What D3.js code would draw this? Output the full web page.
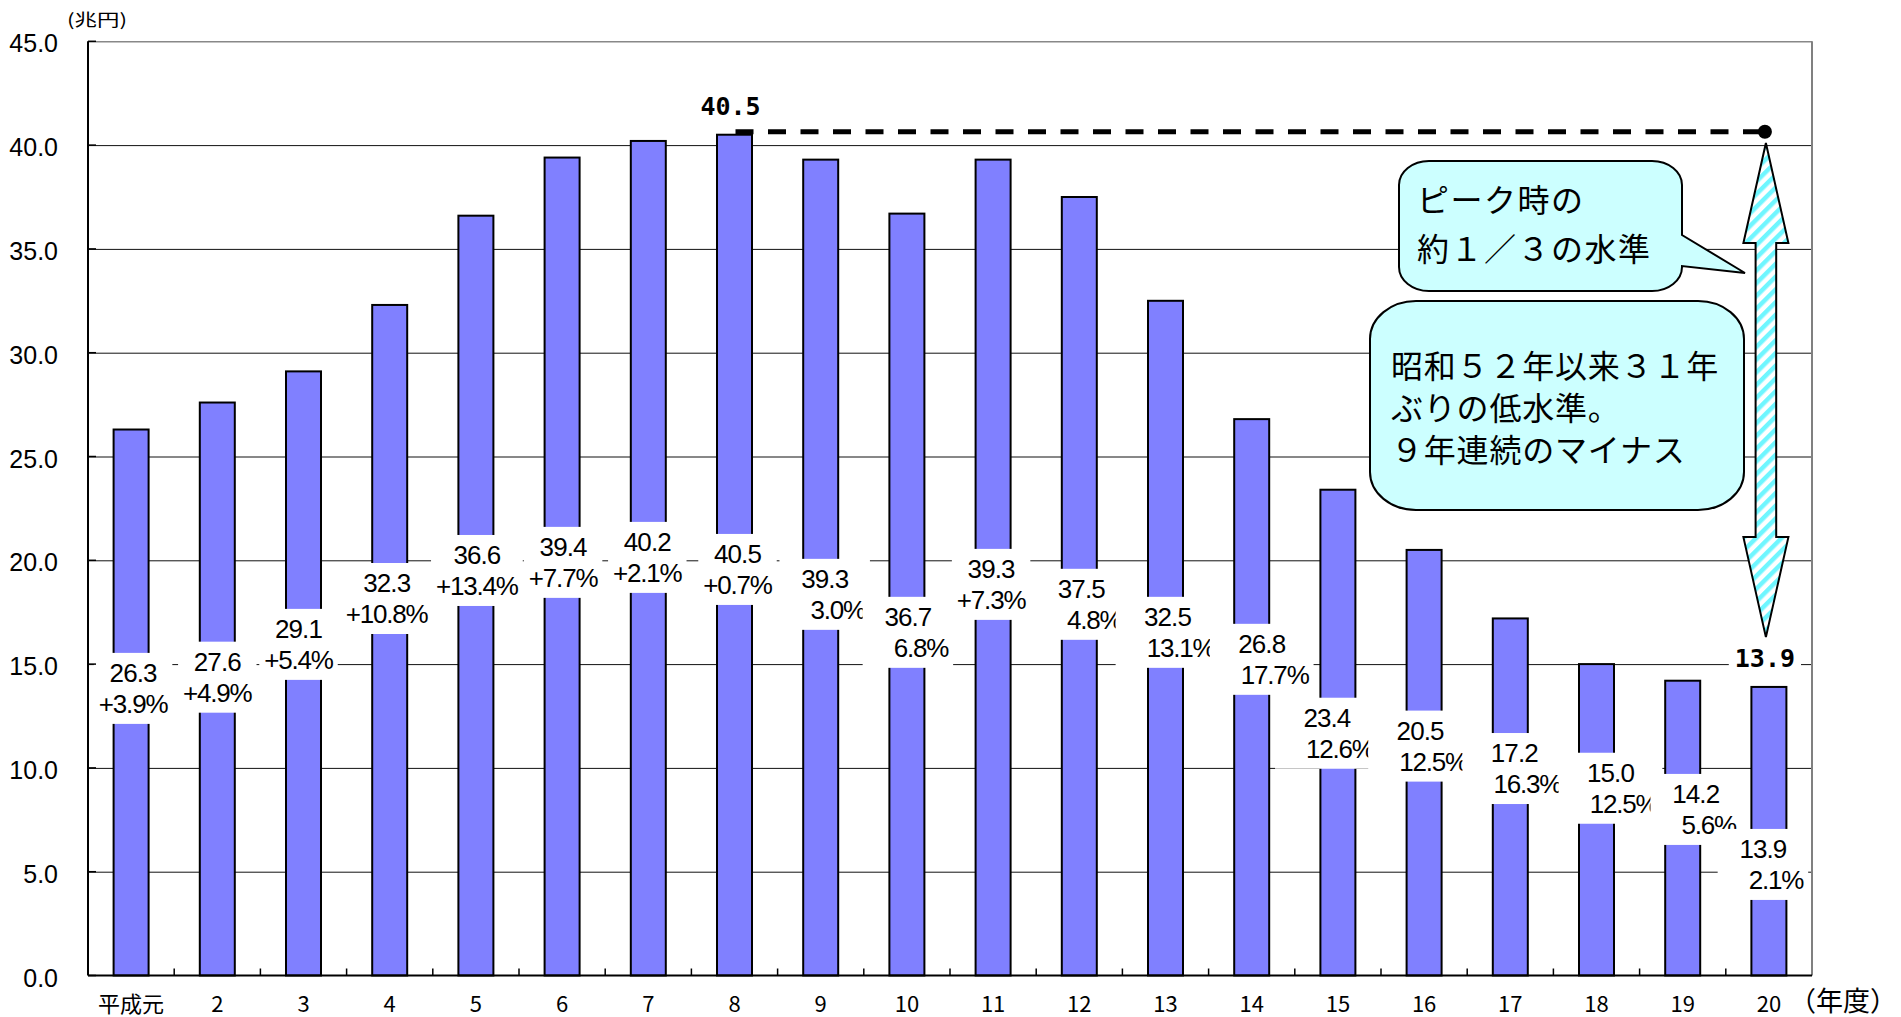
<!DOCTYPE html>
<html lang="ja">
<head>
<meta charset="utf-8">
<title>税収の推移</title>
<script src="https://cdn.jsdelivr.net/npm/d3@7"></script>
<style>
  html, body { margin: 0; padding: 0; background: #fff; }
  svg { display: block; }
</style>
</head>
<body>
<svg id="chart" width="1901" height="1017"></svg>
<script>
// ---- data -------------------------------------------------------------
const years = ["平成元", "2", "3", "4", "5", "6", "7", "8", "9", "10",
               "11", "12", "13", "14", "15", "16", "17", "18", "19", "20"];
// 兆円
const revenue = [26.3, 27.6, 29.1, 32.3, 36.6, 39.4, 40.2, 40.5, 39.3, 36.7,
                 39.3, 37.5, 32.5, 26.8, 23.4, 20.5, 17.2, 15.0, 14.2, 13.9];
// 前年度比 (%)
const change = [3.9, 4.9, 5.4, 10.8, 13.4, 7.7, 2.1, 0.7, -3.0, -6.8,
                7.3, -4.8, -13.1, -17.7, -12.6, -12.5, -16.3, -12.5, -5.6, -2.1];
const yTicks = [0, 5, 10, 15, 20, 25, 30, 35, 40, 45];

// ---- label layout (box top in 兆円 units, horizontal nudge in px) ----
const labelTop = [15.54, 16.08, 17.66, 19.87, 21.22, 21.61, 21.85, 21.27, 20.07, 18.24,
                  20.55, 19.59, 18.24, 16.94, 13.38, 12.76, 11.68, 10.73, 9.71, 7.06];
const labelNudge = [2, 0, -5, -3, 1, 1, -1, 3, 4, 1, -2, 2, 2, 10, -11, -4, 4, 14, 13, -6];

const peakIndex = 7;     // 平成8年度
const lastIndex = 19;    // 平成20年度

// ---- setup ------------------------------------------------------------
const svg = d3.select("#chart");
const plotLeft = 88, plotRight = 1812, plotTop = 41.3, plotBottom = 975.5;
const numFont = "'Liberation Sans', Arial, sans-serif";
const jpFont = "'Noto Sans CJK JP', 'Noto Sans', sans-serif";
const fmt = d3.format(".1f");

const x = d3.scaleBand().domain(years).range([plotLeft, plotRight])
  .paddingInner(0.594).paddingOuter(0.297);
const y = d3.scaleLinear().domain([0, 45]).range([plotBottom, plotTop]);
const bw = x.bandwidth();
const cx = i => x(years[i]) + bw / 2;

// stripes for the arrow
const defs = svg.append("defs");
const pat = defs.append("pattern").attr("id", "stripes")
  .attr("patternUnits", "userSpaceOnUse").attr("width", 9).attr("height", 9)
  .attr("patternTransform", "rotate(45)");
pat.append("rect").attr("width", 9).attr("height", 9).attr("fill", "#fff");
pat.append("rect").attr("width", 4.5).attr("height", 9).attr("fill", "#6ff6ff");

// ---- gridlines + y labels --------------------------------------------
const yAxis = svg.append("g").attr("transform", `translate(${plotLeft},0)`)
  .call(d3.axisLeft(y).tickValues(yTicks).tickFormat(fmt)
    .tickSizeInner(-(plotRight - plotLeft)).tickSizeOuter(0).tickPadding(30));
yAxis.select(".domain").remove();
yAxis.selectAll(".tick line")
  .attr("stroke", d => d === 45 ? "#888" : "#111")
  .attr("stroke-width", d => d === 45 ? 1.6 : 1)
  .filter(d => d === 0).remove();
yAxis.selectAll(".tick text")
  .attr("font-family", numFont).attr("font-size", 25).attr("fill", "#000")
  .attr("dy", "0.42em");

// right border
svg.append("line").attr("x1", plotRight).attr("x2", plotRight)
  .attr("y1", y(45)).attr("y2", y(0))
  .attr("stroke", "#808080").attr("stroke-width", 2);

// unit
svg.append("text").attr("x", 67).attr("y", 26)
  .attr("font-family", jpFont).attr("font-size", 17).attr("fill", "#000")
  .attr("textLength", 60).attr("lengthAdjust", "spacingAndGlyphs")
  .text("(兆円)");

// ---- bars ---------------------------------------------------------------
svg.append("g").selectAll("rect").data(revenue).join("rect")
  .attr("x", (d, i) => x(years[i]))
  .attr("y", d => y(d))
  .attr("width", bw)
  .attr("height", d => y(0) - y(d))
  .attr("fill", "#8080ff")
  .attr("stroke", "#000")
  .attr("stroke-width", 2);

// ---- value / change labels -------------------------------------------
const markW = 26;   // decreases keep an empty slot where the minus marker sits
const labels = svg.append("g");
revenue.forEach((v, i) => {
  const g = labels.append("g");
  const box = g.append("rect").attr("fill", "#fff");
  const c = cx(i) + labelNudge[i];
  const t0 = y(labelTop[i]);
  const b1 = t0 + 29, b2 = t0 + 60;
  const vt = g.append("text").attr("x", c).attr("y", b1)
    .attr("text-anchor", "middle").attr("font-family", numFont)
    .attr("font-size", 26).attr("letter-spacing", "-0.9px").attr("fill", "#000")
    .text(fmt(v));
  const ch = change[i];
  const pt = g.append("text").attr("y", b2)
    .attr("font-family", numFont).attr("font-size", 26)
    .attr("letter-spacing", "-1.2px").attr("fill", "#000")
    .text((ch >= 0 ? "+" : "") + fmt(Math.abs(ch)) + "%");
  const wv = vt.node().getComputedTextLength();
  const wp = pt.node().getComputedTextLength();
  let wFull;
  if (ch >= 0) {
    wFull = wp;
    pt.attr("x", c).attr("text-anchor", "middle");
  } else {
    wFull = wp + markW;
    pt.attr("x", c - wFull / 2 + markW).attr("text-anchor", "start");
  }
  const w = Math.max(wv, wFull) + 10;
  box.attr("x", c - w / 2).attr("y", t0).attr("width", w).attr("height", 71);
});

// ---- x axis -------------------------------------------------------------
const xAxis = svg.append("g").attr("transform", `translate(0,${plotBottom})`)
  .call(d3.axisBottom(x).tickSize(0).tickPadding(0));
xAxis.select(".domain").remove();
xAxis.selectAll(".tick text")
  .attr("font-family", jpFont).attr("font-size", 22).attr("fill", "#000")
  .attr("dy", 0).attr("y", 26).attr("dominant-baseline", "central");

// ticks between categories, pointing up
svg.append("g").selectAll("line").data(years.slice(1)).join("line")
  .attr("x1", d => x(d) - x.step() * x.paddingInner() / 2)
  .attr("x2", d => x(d) - x.step() * x.paddingInner() / 2)
  .attr("y1", plotBottom).attr("y2", plotBottom - 7)
  .attr("stroke", "#000").attr("stroke-width", 1.5);

svg.append("line").attr("x1", plotLeft).attr("x2", plotRight)
  .attr("y1", plotBottom).attr("y2", plotBottom)
  .attr("stroke", "#000").attr("stroke-width", 2);

// y axis line + inner ticks
svg.append("line").attr("x1", plotLeft).attr("x2", plotLeft)
  .attr("y1", y(45)).attr("y2", y(0))
  .attr("stroke", "#000").attr("stroke-width", 2);
svg.append("g").selectAll("line").data(yTicks).join("line")
  .attr("x1", plotLeft).attr("x2", plotLeft + 8)
  .attr("y1", d => y(d)).attr("y2", d => y(d))
  .attr("stroke", "#000").attr("stroke-width", 1.5);

svg.append("text").attr("x", 1789).attr("y", 999)
  .attr("dominant-baseline", "central")
  .attr("font-family", jpFont).attr("font-size", 27).attr("fill", "#000")
  .text("（年度）");

// ---- peak reference line --------------------------------------------
const peakY = y(revenue[peakIndex]) - 3;
const endX = cx(lastIndex) - 4;
svg.append("line")
  .attr("x1", cx(peakIndex) + 1).attr("x2", endX)
  .attr("y1", peakY).attr("y2", peakY)
  .attr("stroke", "#000").attr("stroke-width", 5)
  .attr("stroke-dasharray", "18 14.5");
svg.append("circle").attr("cx", endX).attr("cy", peakY).attr("r", 7).attr("fill", "#000");

// ---- callouts ---------------------------------------------------------
function roundRect(L, T, R, B, rx, ry, tail) {
  let p = `M${L + rx},${T} H${R - rx} A${rx},${ry} 0 0 1 ${R},${T + ry}`;
  if (tail) p += ` V${tail.y0} L${tail.tx},${tail.ty} L${R},${tail.y1}`;
  p += ` V${B - ry} A${rx},${ry} 0 0 1 ${R - rx},${B} H${L + rx}` +
       ` A${rx},${ry} 0 0 1 ${L},${B - ry} V${T + ry} A${rx},${ry} 0 0 1 ${L + rx},${T} Z`;
  return p;
}
const callFill = "#ccffff";
svg.append("path")
  .attr("d", roundRect(1399, 161, 1682, 291, 30, 24, { y0: 235, y1: 266, tx: 1745, ty: 273 }))
  .attr("fill", callFill).attr("stroke", "#000").attr("stroke-width", 2);
svg.append("path")
  .attr("d", roundRect(1370, 301, 1744, 510, 46, 38))
  .attr("fill", callFill).attr("stroke", "#000").attr("stroke-width", 2);

const note1 = ["ピーク時の", "約１／３の水準"];
const note2 = ["昭和５２年以来３１年", "ぶりの低水準。", "９年連続のマイナス"];
svg.append("g").selectAll("text").data(note1).join("text")
  .attr("x", 1417).attr("y", (d, i) => 198 + i * 49)
  .attr("dominant-baseline", "central")
  .attr("font-family", jpFont).attr("font-size", 32).attr("letter-spacing", "1.5px")
  .attr("fill", "#000").text(d => d);
svg.append("g").selectAll("text").data(note2).join("text")
  .attr("x", 1391).attr("y", (d, i) => 364 + i * 42)
  .attr("dominant-baseline", "central")
  .attr("font-family", jpFont).attr("font-size", 32).attr("letter-spacing", "0.8px")
  .attr("fill", "#000").text(d => d);

// ---- double-headed arrow (peak → latest) -----------------------------
const ax = cx(lastIndex) - 3;
const tipT = y(40.1), tipB = y(16.3), head = 100, hw = 22.5, sw = 10.3;
const arrow = [
  [ax, tipT], [ax + hw, tipT + head], [ax + sw, tipT + head],
  [ax + sw, tipB - head], [ax + hw, tipB - head], [ax, tipB],
  [ax - hw, tipB - head], [ax - sw, tipB - head], [ax - sw, tipT + head],
  [ax - hw, tipT + head]
];
svg.append("path").attr("d", d3.line()(arrow) + "Z")
  .attr("fill", "url(#stripes)").attr("stroke", "#000").attr("stroke-width", 2);

// ---- bold value tags (peak / latest) ----------------------------------
[peakIndex, lastIndex].forEach(i => {
  const g = svg.append("g");
  const box = g.append("rect").attr("fill", "#fff");
  const t = g.append("text")
    .attr("x", cx(i) - 4).attr("y", y(revenue[i]) - 20)
    .attr("text-anchor", "middle")
    .attr("font-family", "'DejaVu Sans Mono', 'Liberation Mono', monospace")
    .attr("font-weight", "bold").attr("font-size", 25).attr("fill", "#000")
    .text(fmt(revenue[i]));
  const bb = t.node().getBBox();
  box.attr("x", bb.x - 6).attr("y", bb.y).attr("width", bb.width + 12).attr("height", bb.height);
});
</script>
</body>
</html>
